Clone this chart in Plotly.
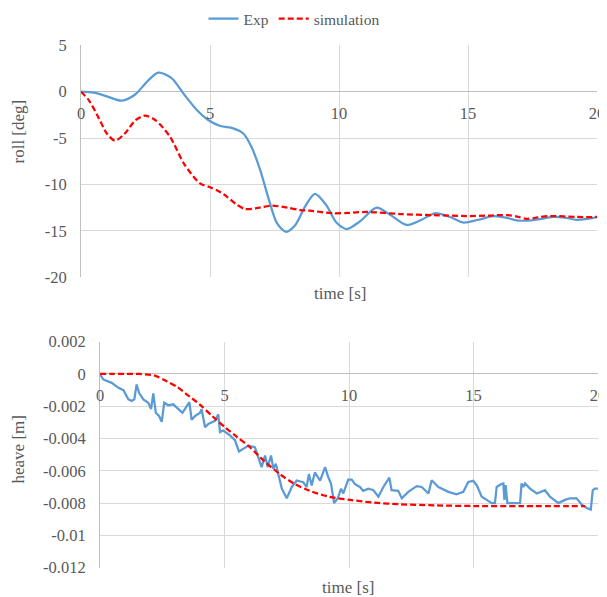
import plotly.graph_objects as go

# ---- data: roll (top) ----
roll_exp_t = [0, 0.5, 1.0, 1.58, 2.1, 2.6, 3.0, 3.5, 4.0, 4.5, 4.93, 5.4, 5.9, 6.29, 6.6, 6.94, 7.3, 7.6, 7.95, 8.3, 8.7, 9.07, 9.5, 9.9, 10.3, 10.8, 11.46, 12.0, 12.62, 13.2, 13.72, 14.3, 14.82, 15.4, 15.98, 16.5, 17.0, 17.6, 18.3, 18.8, 19.2, 19.6, 20.0]
roll_exp = [0, -0.1, -0.5, -0.97, -0.3, 1.2, 2.05, 1.5, -0.3, -2.0, -3.05, -3.7, -3.95, -4.5, -5.9, -8.4, -11.8, -14.2, -15.1, -14.4, -12.3, -11.02, -12.2, -14.1, -14.8, -14.0, -12.5, -13.3, -14.36, -13.8, -13.1, -13.5, -14.1, -13.8, -13.4, -13.6, -13.9, -13.8, -13.5, -13.6, -13.8, -13.7, -13.5]
roll_sim_t = [0, 0.3, 0.7, 1.0, 1.32, 1.7, 2.1, 2.48, 2.9, 3.45, 4.0, 4.61, 5.0, 5.39, 5.65, 6.0, 6.36, 6.8, 7.39, 8.0, 8.49, 8.88, 9.77, 10.4, 11.07, 12.36, 13.66, 14.95, 15.8, 16.5, 16.9, 17.27, 17.7, 18.18, 19.2, 20.0]
roll_sim = [0, -0.9, -2.9, -4.5, -5.28, -4.5, -3.1, -2.58, -3.1, -4.85, -7.8, -9.87, -10.3, -10.8, -11.3, -12.1, -12.64, -12.55, -12.28, -12.5, -12.75, -12.82, -13.1, -13.05, -12.96, -13.18, -13.3, -13.4, -13.35, -13.29, -13.45, -13.7, -13.55, -13.4, -13.5, -13.5]

# ---- data: heave (bottom) ----
heave_exp_t = [0, 0.04, 0.13, 0.47, 0.74, 0.94, 1.14, 1.27, 1.38, 1.47, 1.57, 1.74, 1.94, 2.05, 2.14, 2.24, 2.37, 2.48, 2.58, 2.74, 2.94, 3.15, 3.31, 3.41, 3.59, 3.68, 3.82, 4.02, 4.08, 4.22, 4.35, 4.62, 4.75, 4.82, 4.95, 5.22, 5.42, 5.58, 5.76, 5.96, 6.22, 6.36, 6.49, 6.63, 6.73, 6.87, 6.96, 7.06, 7.16, 7.3, 7.5, 7.7, 7.9, 8.16, 8.3, 8.39, 8.5, 8.63, 8.84, 9.04, 9.17, 9.28, 9.4, 9.55, 9.68, 9.77, 9.97, 10.11, 10.24, 10.44, 10.57, 10.78, 10.98, 11.18, 11.38, 11.62, 11.71, 11.98, 12.12, 12.38, 12.72, 12.92, 13.19, 13.32, 13.59, 13.99, 14.32, 14.59, 14.79, 14.99, 15.13, 15.33, 15.53, 15.73, 15.86, 15.93, 16.1, 16.2, 16.24, 16.29, 16.36, 16.6, 16.87, 16.93, 17.0, 17.07, 17.27, 17.54, 17.74, 17.87, 18.07, 18.41, 18.67, 18.88, 19.14, 19.35, 19.55, 19.71, 19.79, 19.88, 20.0]
heave_exp = [0, -0.0001, -0.00034, -0.00055, -0.00086, -0.001, -0.00157, -0.00167, -0.00157, -0.00065, -0.00117, -0.00157, -0.00178, -0.00218, -0.0012, -0.0024, -0.0026, -0.00296, -0.00178, -0.00194, -0.00188, -0.00218, -0.0024, -0.00218, -0.00174, -0.00284, -0.0026, -0.0024, -0.00218, -0.0033, -0.0031, -0.0029, -0.0025, -0.0036, -0.0035, -0.0038, -0.0041, -0.0048, -0.00464, -0.00444, -0.00454, -0.00515, -0.00577, -0.00505, -0.00577, -0.00505, -0.00587, -0.00556, -0.00628, -0.0071, -0.0077, -0.007, -0.0066, -0.0067, -0.007, -0.0062, -0.0069, -0.0061, -0.0066, -0.00577, -0.0064, -0.0068, -0.008, -0.0077, -0.0071, -0.0074, -0.00654, -0.00654, -0.00683, -0.007, -0.00724, -0.0071, -0.0072, -0.0076, -0.007, -0.00642, -0.0072, -0.00724, -0.0077, -0.0073, -0.00695, -0.007, -0.0074, -0.00658, -0.007, -0.0073, -0.00746, -0.0073, -0.00669, -0.00662, -0.00689, -0.0076, -0.0078, -0.008, -0.008, -0.007, -0.00683, -0.00678, -0.0078, -0.00689, -0.008, -0.008, -0.008, -0.00678, -0.007, -0.00678, -0.0071, -0.0074, -0.0073, -0.0072, -0.0076, -0.008, -0.0078, -0.0077, -0.0077, -0.0081, -0.0083, -0.0084, -0.0072, -0.0071, -0.0071]
heave_sim_t = [0, 0.5, 1.0, 1.6, 2.2, 2.68, 3.1, 3.48, 4.0, 4.5, 5.02, 5.5, 6.02, 6.6, 7.23, 7.8, 8.43, 9.2, 10.04, 11.0, 12.05, 13.5, 15.06, 17.0, 19.48]
heave_sim = [0, 0, 0, 0, -0.0001, -0.00045, -0.0008, -0.00126, -0.00188, -0.0026, -0.0033, -0.0039, -0.00454, -0.0054, -0.00621, -0.0068, -0.00724, -0.0076, -0.0078, -0.00797, -0.00807, -0.00814, -0.00818, -0.00818, -0.00818]

x_ticks = [0, 5, 10, 15, 20]
roll_ticks = [5, 0, -5, -10, -15, -20]
roll_tick_text = ["5", "0", "-5", "-10", "-15", "-20"]
heave_ticks = [0.002, 0, -0.002, -0.004, -0.006, -0.008, -0.01, -0.012]
heave_tick_text = ["0.002", "0", "-0.002", "-0.004", "-0.006", "-0.008", "-0.01", "-0.012"]

BLUE = "#5b9bd5"
RED = "#ff0000"
GRID = "#d9d9d9"
AXIS = "#bfbfbf"
TXT = "#595959"
FONT = "Liberation Serif"
DASH = "6px,3px"

OFF = 8  # page body margin
W, H = 607 - OFF, 597 - OFF
def fx(px): return (px - OFF) / W
def fy(py): return 1 - (py - OFF) / H

fig = go.Figure()
fig.add_trace(go.Scatter(x=roll_exp_t, y=roll_exp, mode="lines", name="Exp",
                         line=dict(color=BLUE, width=2.25, shape="spline", smoothing=0.8),
                         xaxis="x", yaxis="y"))
fig.add_trace(go.Scatter(x=roll_sim_t, y=roll_sim, mode="lines", name="simulation",
                         line=dict(color=RED, width=2.25, dash=DASH, shape="spline", smoothing=0.8),
                         xaxis="x", yaxis="y"))
fig.add_trace(go.Scatter(x=heave_exp_t, y=heave_exp, mode="lines", name="Exp", showlegend=False,
                         line=dict(color=BLUE, width=2.25),
                         xaxis="x2", yaxis="y2"))
fig.add_trace(go.Scatter(x=heave_sim_t, y=heave_sim, mode="lines", name="simulation", showlegend=False,
                         line=dict(color=RED, width=2.25, dash=DASH, shape="spline", smoothing=0.8),
                         xaxis="x2", yaxis="y2"))

tickfont = dict(family=FONT, size=16.5, color=TXT)

fig.update_layout(
    width=W, height=H, margin=dict(l=0, r=0, t=0, b=0, autoexpand=False),
    paper_bgcolor="white", plot_bgcolor="white",
    font=dict(family=FONT, color=TXT),
    showlegend=True,
    legend=dict(orientation="h", x=fx(294), xanchor="center", y=fy(19), yanchor="middle",
                font=dict(family=FONT, size=15.5, color=TXT), bgcolor="rgba(0,0,0,0)"),
    xaxis=dict(domain=[fx(81), fx(597)], range=[0, 20], tickvals=x_ticks,
               anchor="free", position=fy(91.7), showline=False, ticks="", automargin=False,
               showgrid=True, gridcolor=GRID, gridwidth=1, zeroline=False,
               tickfont=tickfont, ticklabelstandoff=10),
    yaxis=dict(domain=[fy(277.3), fy(45.3)], range=[-20, 5], tickvals=roll_ticks,
               ticktext=roll_tick_text, automargin=False,
               anchor="x", showline=True, linecolor=AXIS, linewidth=1, ticks="",
               showgrid=True, gridcolor=GRID, gridwidth=1,
               zeroline=True, zerolinecolor=AXIS, zerolinewidth=1.3,
               tickfont=tickfont, ticklabelstandoff=10),
    xaxis2=dict(domain=[fx(100), fx(598)], range=[0, 20], tickvals=x_ticks,
                anchor="free", position=fy(372.7), showline=False, ticks="", automargin=False,
                showgrid=True, gridcolor=GRID, gridwidth=1, zeroline=False,
                tickfont=tickfont, ticklabelstandoff=11),
    yaxis2=dict(domain=[fy(567.7), fy(341.7)], range=[-0.012, 0.002], tickvals=heave_ticks,
                ticktext=heave_tick_text, automargin=False,
                anchor="x2", showline=True, linecolor=AXIS, linewidth=1, ticks="",
                showgrid=True, gridcolor=GRID, gridwidth=1,
                zeroline=True, zerolinecolor=AXIS, zerolinewidth=1.3,
                tickfont=tickfont, ticklabelstandoff=10),
    annotations=[
        dict(text="roll [deg]", x=fx(18), y=fy(131.5), xref="paper", yref="paper",
             xanchor="center", yanchor="middle",
             textangle=-90, showarrow=False, font=dict(family=FONT, size=17, color=TXT)),
        dict(text="time [s]", x=fx(340), y=fy(293), xref="paper", yref="paper",
             xanchor="center", yanchor="middle",
             showarrow=False, font=dict(family=FONT, size=17, color=TXT)),
        dict(text="heave [m]", x=fx(18), y=fy(449.5), xref="paper", yref="paper",
             xanchor="center", yanchor="middle",
             textangle=-90, showarrow=False, font=dict(family=FONT, size=17, color=TXT)),
        dict(text="time [s]", x=fx(348), y=fy(587), xref="paper", yref="paper",
             xanchor="center", yanchor="middle",
             showarrow=False, font=dict(family=FONT, size=17, color=TXT)),
    ],
)

fig.write_html("out.html")
